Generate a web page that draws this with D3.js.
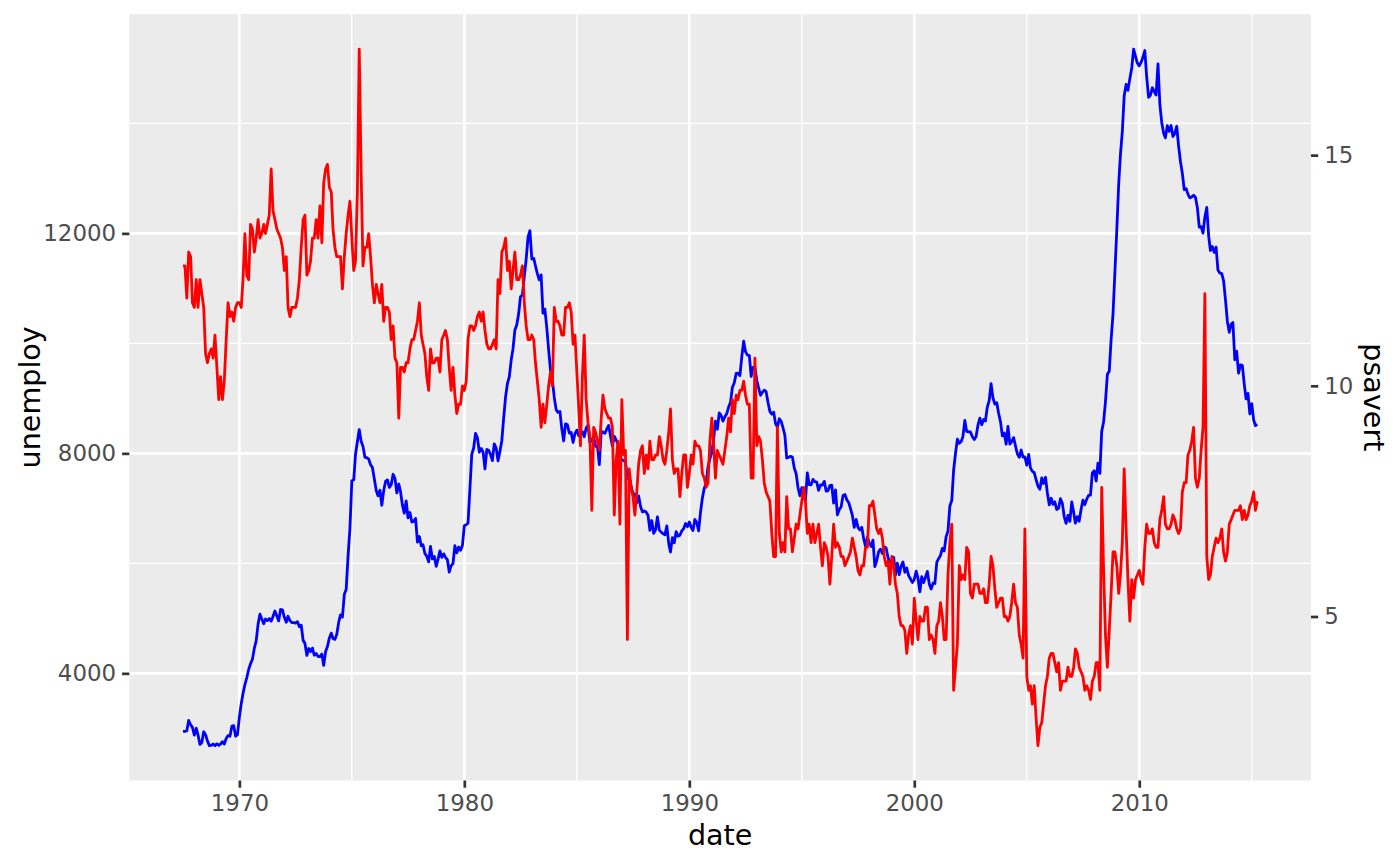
<!DOCTYPE html>
<html>
<head>
<meta charset="utf-8">
<script src="https://cdn.jsdelivr.net/npm/d3@7"></script>
<style>
  body { margin: 0; background: #fff; }
  text { font-family: "DejaVu Sans", sans-serif; }
</style>
</head>
<body>
<div id="chart"></div>
<script>
// monthly series, first value is July 1967
const firstMonth = "1967-07-01";

const unemploy = [
  2944, 2945, 2958, 3143, 3066, 3018,
  2878, 3001, 2877, 2709, 2740, 2938, 2883, 2768, 2686, 2689, 2715, 2685,
  2718, 2692, 2712, 2758, 2713, 2816, 2868, 2856, 3040, 3049, 2856, 2884,
  3201, 3453, 3635, 3797, 3919, 4071, 4175, 4256, 4456, 4591, 4898, 5076,
  4986, 4903, 4987, 4959, 4996, 4949, 5035, 5134, 5042, 4954, 5161, 5154,
  5019, 4928, 5038, 4959, 4922, 4923, 4913, 4939, 4849, 4875, 4602, 4543,
  4326, 4452, 4394, 4459, 4329, 4363, 4305, 4305, 4350, 4144, 4396, 4489,
  4644, 4731, 4634, 4618, 4705, 4927, 5063, 5022, 5437, 5523, 6140, 6636,
  7501, 7520, 7978, 8210, 8433, 8220, 8127, 7928, 7923, 7897, 7794, 7744,
  7534, 7326, 7230, 7330, 7053, 7322, 7490, 7518, 7380, 7430, 7620, 7545,
  7280, 7443, 7307, 7059, 6911, 7134, 6829, 6925, 6751, 6763, 6815, 6386,
  6489, 6318, 6337, 6180, 6127, 6028, 6309, 6080, 6125, 5947, 6077, 6228,
  6109, 6173, 6109, 6069, 5840, 5959, 5996, 6320, 6190, 6296, 6238, 6325,
  6683, 6702, 6729, 7358, 7984, 8098, 8363, 8281, 8021, 8088, 8023, 7718,
  8071, 8051, 7982, 7869, 8174, 8098, 7863, 8036, 8230, 8646, 9029, 9267,
  9397, 9705, 9895, 10244, 10335, 10538, 10849, 10881, 11217, 11529, 11938, 12051,
  11534, 11545, 11408, 11268, 11154, 11246, 10548, 10623, 10282, 9887, 9499, 9331,
  9008, 8791, 8746, 8762, 8456, 8226, 8537, 8519, 8367, 8381, 8198, 8358,
  8423, 8321, 8339, 8395, 8302, 8460, 8513, 8196, 8248, 8298, 8128, 8138,
  7795, 8402, 8383, 8364, 8439, 8508, 8319, 8135, 8310, 8243, 8159, 7883,
  7892, 7865, 7862, 7542, 7574, 7398, 7268, 7261, 7102, 7227, 7035, 6936,
  6953, 6929, 6876, 6601, 6779, 6546, 6605, 6843, 6604, 6568, 6537, 6518,
  6682, 6359, 6205, 6468, 6375, 6577, 6495, 6511, 6590, 6630, 6725, 6667,
  6752, 6651, 6598, 6797, 6742, 6590, 6922, 7188, 7368, 7459, 7764, 7901,
  8015, 8265, 8586, 8439, 8736, 8692, 8586, 8666, 8722, 8842, 8931, 9198,
  9283, 9454, 9460, 9415, 9744, 10040, 9850, 9787, 9781, 9398, 9565, 9557,
  9325, 9183, 9056, 9110, 9149, 9121, 8930, 8763, 8714, 8750, 8542, 8477,
  8630, 8583, 8470, 8331, 7915, 7927, 7946, 7933, 7734, 7632, 7375, 7230,
  7375, 7187, 7153, 7645, 7430, 7427, 7527, 7484, 7478, 7328, 7426, 7423,
  7491, 7313, 7318, 7415, 7423, 7095, 7337, 6882, 6979, 7031, 7236, 7253,
  7158, 7102, 7000, 6873, 6655, 6799, 6655, 6608, 6656, 6454, 6308, 6476,
  6368, 6306, 6422, 5941, 6047, 6212, 6259, 6179, 6300, 6280, 6100, 6032,
  5976, 6111, 5783, 6004, 5796, 5951, 6025, 5838, 5915, 5778, 5716, 5653,
  5708, 5858, 5733, 5481, 5758, 5651, 5747, 5853, 5625, 5534, 5639, 5634,
  6023, 6089, 6141, 6271, 6226, 6484, 6583, 7042, 7142, 7694, 8003, 8258,
  8182, 8215, 8304, 8599, 8399, 8393, 8390, 8304, 8251, 8307, 8520, 8640,
  8520, 8618, 8588, 8842, 8957, 9266, 9011, 8896, 8921, 8732, 8576, 8317,
  8370, 8167, 8491, 8170, 8212, 8286, 8136, 7990, 7927, 8061, 7932, 7934,
  7784, 7980, 7737, 7672, 7651, 7524, 7406, 7345, 7553, 7453, 7566, 7279,
  7064, 7184, 7072, 7120, 6980, 7001, 7175, 7091, 6847, 6727, 6872, 6762,
  7116, 6927, 6731, 6850, 6766, 6979, 7149, 7067, 7170, 7237, 7240, 7645,
  7685, 7497, 7822, 7637, 8395, 8575, 8937, 9438, 9494, 10074, 10538, 11286,
  12058, 12898, 13426, 13853, 14499, 14707, 14601, 14814, 15009, 15352, 15219, 15098,
  15046, 15113, 15202, 15325, 14849, 14474, 14512, 14648, 14579, 14516, 15081, 14348,
  14013, 13820, 13737, 13957, 13855, 13962, 13763, 13818, 13948, 13594, 13302, 13093,
  12797, 12813, 12713, 12646, 12660, 12692, 12656, 12471, 12115, 12124, 12005, 12298,
  12471, 11950, 11689, 11760, 11654, 11751, 11335, 11279, 11270, 11136, 10787, 10404,
  10202, 10349, 10380, 9702, 9859, 9460, 9608, 9599, 9262, 8990, 9090, 8717,
  8903, 8610, 8504, 8526
];

const psavert = [
  12.6, 12.6, 11.9, 12.9, 12.8, 11.8,
  11.7, 12.3, 11.7, 12.3, 12.0, 11.7, 10.7, 10.5, 10.7, 10.8, 10.6, 11.1,
  10.4, 9.7, 10.2, 9.7, 10.1, 11.0, 11.8, 11.5, 11.6, 11.4, 11.7, 11.8,
  11.8, 11.7, 12.3, 13.3, 12.4, 12.3, 13.5, 13.4, 12.9, 13.2, 13.6, 13.2,
  13.3, 13.5, 13.3, 13.5, 13.7, 14.7, 13.8, 13.6, 13.4, 13.3, 13.2, 13.0,
  12.5, 12.8, 11.7, 11.5, 11.7, 11.7, 11.7, 11.9, 12.3, 13.0, 13.6, 13.7,
  12.4, 12.5, 12.7, 13.2, 13.2, 13.6, 13.2, 13.9, 13.1, 14.4, 14.7, 14.8,
  14.3, 14.2, 13.4, 13.0, 12.8, 12.8, 12.8, 12.1, 12.8, 13.3, 13.7, 14.0,
  13.2, 12.5, 12.7, 14.2, 17.3, 14.6, 12.6, 13.0, 13.0, 13.3, 12.8, 12.2,
  11.8, 12.2, 12.0, 11.8, 12.2, 11.4, 11.7, 11.7, 11.6, 11.0, 11.3, 10.6,
  10.5, 9.3, 10.4, 10.4, 10.3, 10.5, 10.5, 10.8, 11.0, 11.0, 11.2, 11.4,
  11.8, 11.1, 10.9, 10.7, 10.2, 9.9, 10.8, 10.5, 10.5, 10.6, 10.6, 10.3,
  11.0, 11.1, 11.2, 11.0, 10.4, 9.9, 10.4, 9.8, 9.4, 9.6, 9.6, 10.0,
  9.9, 10.1, 11.0, 11.3, 11.3, 11.2, 11.3, 11.5, 11.6, 11.4, 11.6, 11.2,
  10.9, 10.8, 10.8, 10.9, 11.0, 10.8, 12.3, 12.0, 12.9, 13.0, 13.2, 12.5,
  12.7, 12.1, 12.5, 12.9, 12.3, 12.3, 12.4, 12.6, 11.8, 11.3, 11.0, 11.0,
  11.1, 11.0, 10.5, 10.1, 9.7, 9.1, 9.6, 9.2, 9.6, 10.0, 10.3, 10.0,
  11.7, 11.4, 11.4, 11.3, 11.1, 11.1, 11.7, 11.7, 11.8, 11.6, 10.9, 11.1,
  10.3, 9.5, 8.7, 10.2, 11.1, 9.7, 9.2, 8.9, 7.3, 9.1, 9.0, 8.8,
  8.6, 9.3, 9.8, 9.5, 9.4, 9.3, 9.3, 9.1, 7.2, 8.4, 8.8, 7.0,
  9.7, 8.5, 8.6, 4.5, 8.2, 7.8, 7.6, 7.2, 7.7, 8.3, 8.6, 8.7,
  8.1, 8.5, 8.2, 8.8, 8.4, 8.4, 8.5, 8.5, 8.9, 8.7, 8.4, 8.3,
  8.6, 9.0, 9.5, 8.4, 8.1, 8.2, 8.2, 7.6, 8.1, 8.5, 8.5, 7.8,
  8.1, 8.5, 8.3, 8.8, 8.7, 8.7, 8.6, 8.1, 8.0, 7.8, 7.9, 8.8,
  9.3, 8.7, 8.0, 8.6, 8.5, 8.4, 8.3, 8.6, 8.9, 9.3, 9.0, 9.7,
  9.4, 9.8, 9.7, 9.9, 9.9, 10.1, 9.8, 9.6, 9.6, 8.0, 8.0, 10.6,
  8.7, 8.9, 8.8, 8.4, 7.9, 7.7, 7.6, 7.5, 6.8, 6.3, 6.3, 9.1,
  6.8, 6.4, 6.6, 6.4, 7.6, 6.9, 6.9, 6.4, 6.7, 7.0, 6.9, 7.2,
  7.5, 7.8, 7.5, 6.8, 7.0, 6.6, 7.0, 6.6, 6.8, 7.0, 6.5, 6.1,
  6.6, 6.5, 6.3, 5.7, 6.3, 7.0, 6.5, 6.6, 6.5, 6.3, 6.3, 6.1,
  6.2, 6.3, 6.4, 6.7, 6.5, 6.3, 6.0, 5.9, 6.1, 6.1, 6.5, 6.5,
  7.4, 7.4, 7.5, 7.2, 6.9, 6.8, 6.9, 6.7, 6.3, 6.1, 6.2, 5.7,
  6.3, 6.1, 5.7, 5.5, 5.0, 4.8, 4.8, 4.7, 4.2, 4.6, 4.8, 4.4,
  5.4, 4.9, 4.5, 5.0, 4.9, 4.9, 5.2, 5.2, 4.5, 4.6, 4.5, 4.2,
  4.8, 4.9, 5.3, 5.0, 4.5, 4.5, 5.9, 6.6, 7.0, 3.4, 3.9, 4.4,
  6.1, 5.8, 5.9, 5.8, 6.5, 6.4, 5.5, 5.4, 5.7, 5.7, 5.7, 5.5,
  5.5, 5.6, 5.3, 5.3, 5.7, 6.3, 6.1, 5.6, 5.2, 5.3, 5.4, 5.4,
  5.0, 5.0, 4.9, 5.0, 5.3, 5.7, 5.3, 5.2, 4.6, 4.4, 4.1, 6.9,
  3.7, 3.4, 3.5, 3.1, 3.5, 2.8, 2.2, 2.6, 2.7, 3.1, 3.5, 3.7,
  4.1, 4.2, 4.2, 4.0, 3.8, 4.0, 3.4, 3.6, 3.6, 3.6, 3.9, 3.7,
  3.7, 3.9, 4.3, 4.2, 3.9, 3.8, 3.7, 3.4, 3.5, 3.4, 3.2, 3.6,
  3.7, 4.0, 4.0, 3.4, 7.8, 6.0, 4.6, 3.9, 4.7, 5.5, 6.4, 6.4,
  6.1, 5.5, 5.9, 6.6, 8.2, 6.9, 5.8, 4.9, 5.8, 5.4, 5.8, 5.9,
  6.0, 5.8, 5.7, 6.5, 7.0, 6.8, 6.8, 6.9, 6.6, 6.5, 6.5, 7.1,
  7.3, 7.6, 7.0, 6.9, 6.9, 7.0, 7.2, 7.1, 6.9, 6.8, 6.9, 7.7,
  7.9, 7.9, 8.5, 8.6, 8.8, 9.1, 8.0, 7.8, 8.0, 8.6, 9.1, 12.0,
  6.3, 5.8, 5.9, 6.3, 6.5, 6.7, 6.6, 6.7, 6.9, 6.4, 6.2, 6.4,
  7.0, 7.1, 7.2, 7.3, 7.3, 7.3, 7.4, 7.1, 7.3, 7.1, 7.2, 7.4,
  7.5, 7.7, 7.3, 7.5
];

const yearTicks = [1970, 1980, 1990, 2000, 2010];
const yearMinor = [1975, 1985, 1995, 2005, 2015];
const unemployTicks = [4000, 8000, 12000];
const unemployMinor = [6000, 10000, 14000];
const psavertTicks = [5, 10, 15];

const width = 1400, height = 866;
const panel = { left: 129.3, right: 1311, top: 14.2, bottom: 780.5 };
const tickFont = 22.9, titleFont = 28.6;
const tickLen = 7.2;

const start = d3.utcParse("%Y-%m-%d")(firstMonth);
const dates = unemploy.map((_, i) => d3.utcMonth.offset(start, i));

// ggplot style 5% expansion on both axes
const [d0, d1] = d3.extent(dates);
const dPad = (d1 - d0) * 0.05;
const x = d3.scaleUtc()
    .domain([new Date(+d0 - dPad), new Date(+d1 + dPad)])
    .range([panel.left, panel.right]);

const [u0, u1] = d3.extent(unemploy);
const uPad = (u1 - u0) * 0.05;
const y = d3.scaleLinear()
    .domain([u0 - uPad, u1 + uPad])
    .range([panel.bottom, panel.top]);

// psavert is rescaled onto the unemploy range, the right axis undoes it
const [p0, p1] = d3.extent(psavert);
const toU = d3.scaleLinear().domain([p0, p1]).range([u0, u1]);
const yRight = d3.scaleLinear()
    .domain([toU.invert(y.domain()[0]), toU.invert(y.domain()[1])])
    .range([panel.bottom, panel.top]);

const svg = d3.select("#chart").append("svg")
    .attr("width", width)
    .attr("height", height);

svg.append("rect")
    .attr("x", panel.left)
    .attr("y", panel.top)
    .attr("width", panel.right - panel.left)
    .attr("height", panel.bottom - panel.top)
    .attr("fill", "#ebebeb");

const grid = svg.append("g").attr("stroke", "#fff");

// minor grid first, then major
grid.selectAll(".ymin")
    .data(unemployMinor)
    .enter().append("line")
    .attr("x1", panel.left).attr("x2", panel.right)
    .attr("y1", d => y(d)).attr("y2", d => y(d))
    .attr("stroke-width", 1.35);

grid.selectAll(".xmin")
    .data(yearMinor)
    .enter().append("line")
    .attr("x1", d => x(Date.UTC(d, 0, 1))).attr("x2", d => x(Date.UTC(d, 0, 1)))
    .attr("y1", panel.top).attr("y2", panel.bottom)
    .attr("stroke-width", 1.35);

grid.selectAll(".ymaj")
    .data(unemployTicks)
    .enter().append("line")
    .attr("x1", panel.left).attr("x2", panel.right)
    .attr("y1", d => y(d)).attr("y2", d => y(d))
    .attr("stroke-width", 2.7);

grid.selectAll(".xmaj")
    .data(yearTicks)
    .enter().append("line")
    .attr("x1", d => x(Date.UTC(d, 0, 1))).attr("x2", d => x(Date.UTC(d, 0, 1)))
    .attr("y1", panel.top).attr("y2", panel.bottom)
    .attr("stroke-width", 2.7);

const lineU = d3.line()
    .x((d, i) => x(dates[i]))
    .y(d => y(d));

const lineP = d3.line()
    .x((d, i) => x(dates[i]))
    .y(d => y(toU(d)));

svg.append("path")
    .datum(unemploy)
    .attr("d", lineU)
    .attr("fill", "none")
    .attr("stroke", "#0000ff")
    .attr("stroke-width", 2.8)
    .attr("stroke-linejoin", "round");

svg.append("path")
    .datum(psavert)
    .attr("d", lineP)
    .attr("fill", "none")
    .attr("stroke", "#ff0000")
    .attr("stroke-width", 2.8)
    .attr("stroke-linejoin", "round");

function styleAxis(g) {
    g.select(".domain").remove();
    g.selectAll(".tick line").attr("stroke", "#333333").attr("stroke-width", 2.7);
    g.selectAll(".tick text")
        .attr("fill", "#4d4d4d")
        .style("font-size", tickFont + "px")
        .style("font-family", "'DejaVu Sans', sans-serif");
}

svg.append("g")
    .attr("transform", `translate(${panel.left},0)`)
    .call(d3.axisLeft(y)
        .tickValues(unemployTicks)
        .tickFormat(d3.format("d"))
        .tickSize(tickLen)
        .tickPadding(6))
    .call(styleAxis);

svg.append("g")
    .attr("transform", `translate(${panel.right},0)`)
    .call(d3.axisRight(yRight)
        .tickValues(psavertTicks)
        .tickFormat(d3.format("d"))
        .tickSize(tickLen)
        .tickPadding(6))
    .call(styleAxis);

svg.append("g")
    .attr("transform", `translate(0,${panel.bottom})`)
    .call(d3.axisBottom(x)
        .tickValues(yearTicks.map(d => new Date(Date.UTC(d, 0, 1))))
        .tickFormat(d3.utcFormat("%Y"))
        .tickSize(tickLen)
        .tickPadding(7))
    .call(styleAxis);

// axis titles
const midY = (panel.top + panel.bottom) / 2;

svg.append("text")
    .attr("x", (panel.left + panel.right) / 2)
    .attr("y", 845)
    .attr("text-anchor", "middle")
    .style("font-size", titleFont + "px")
    .attr("fill", "#000")
    .text("date");

svg.append("text")
    .attr("transform", `translate(40,${midY}) rotate(-90)`)
    .attr("text-anchor", "middle")
    .style("font-size", titleFont + "px")
    .attr("fill", "#000")
    .text("unemploy");

svg.append("text")
    .attr("transform", `translate(1364,${midY}) rotate(90)`)
    .attr("text-anchor", "middle")
    .style("font-size", titleFont + "px")
    .attr("fill", "#000")
    .text("psavert");
</script>
</body>
</html>
